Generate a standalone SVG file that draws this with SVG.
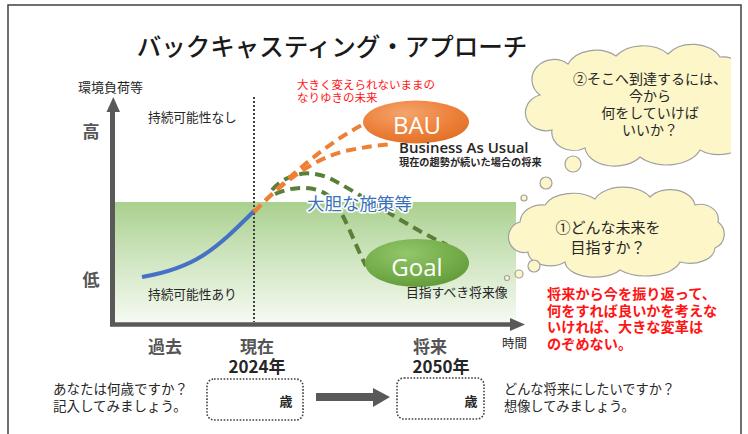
<svg xmlns="http://www.w3.org/2000/svg" width="748" height="434" viewBox="0 0 748 434">
<defs>
<style>
.jp{font-family:"Noto Sans CJK JP","Noto Sans",sans-serif;}
.en{font-family:"Open Sans","Noto Sans",sans-serif;}
.dk{fill:#262626;}
.gr{fill:#555555;font-weight:bold;}
.red{fill:#ff1414;}
.cloud{fill:#fcf6c8;stroke:#a0a0a0;stroke-width:1.2;}
.orange{fill:none;stroke:#ee8035;stroke-width:4;stroke-dasharray:10 6;}
.green{fill:none;stroke:#5a7f38;stroke-width:4;stroke-dasharray:10 6;}
.box{fill:#ffffff;stroke:#404040;stroke-width:1.6;stroke-dasharray:1.6 1.6;}
</style>
<linearGradient id="gBand" x1="0" y1="0" x2="0" y2="1">
<stop offset="0" stop-color="#a9d08e"/>
<stop offset="0.35" stop-color="#c6e0b4"/>
<stop offset="1" stop-color="#f6faf2"/>
</linearGradient>
<radialGradient id="gBAU" cx="0.4" cy="0.3" r="0.8">
<stop offset="0" stop-color="#f4a46c"/>
<stop offset="0.6" stop-color="#ec7f38"/>
<stop offset="1" stop-color="#dc6c24"/>
</radialGradient>
<radialGradient id="gGoal" cx="0.4" cy="0.3" r="0.8">
<stop offset="0" stop-color="#92c66a"/>
<stop offset="0.6" stop-color="#73ac48"/>
<stop offset="1" stop-color="#5e9638"/>
</radialGradient>
<clipPath id="clipR"><rect x="0" y="0" width="731" height="434"/></clipPath>
</defs>

<rect x="0" y="0" width="748" height="434" fill="#ffffff"/>
<rect id="frame" x="8" y="5" width="733" height="440" fill="none" stroke="#404040" stroke-width="1.5"/>

<text id="title" class="jp" x="332" y="56" font-size="24.5" font-weight="500" text-anchor="middle" fill="#1a1a1a">バックキャスティング・アプローチ</text>

<g id="band">
<rect x="115" y="202" width="401" height="120" fill="url(#gBand)"/>
</g>

<g id="axes">
<line x1="112.5" y1="326" x2="112.5" y2="110" stroke="#595959" stroke-width="5"/>
<path d="M106.5,112 L113.3,97 L120,112 Z" fill="#595959"/>
<line x1="110" y1="324.5" x2="511" y2="324.5" stroke="#595959" stroke-width="4.5"/>
<path d="M510,318 L525,324.5 L510,331 Z" fill="#595959"/>
<line x1="254" y1="97" x2="254" y2="322" stroke="#404040" stroke-width="2" stroke-dasharray="2 2"/>
</g>

<g id="axis-labels">
<text class="jp dk" x="78" y="92" font-size="13">環境負荷等</text>
<text class="jp gr" x="91" y="138" font-size="17" text-anchor="middle" fill="#595959">高</text>
<text class="jp gr" x="91" y="286" font-size="17" text-anchor="middle" fill="#595959">低</text>
<text class="jp dk" x="148" y="122" font-size="12.7">持続可能性なし</text>
<text class="jp dk" x="148" y="299" font-size="12.7">持続可能性あり</text>
<text class="jp dk" x="502" y="348" font-size="12.5">時間</text>
<text class="jp gr" x="165" y="353" font-size="17" text-anchor="middle">過去</text>
<text class="jp gr" x="257" y="353" font-size="17" text-anchor="middle">現在</text>
<text class="jp" x="257" y="373" font-size="17" font-weight="bold" text-anchor="middle" fill="#262626">2024年</text>
<text class="jp gr" x="430" y="353" font-size="17" text-anchor="middle">将来</text>
<text class="jp" x="441" y="373" font-size="17" font-weight="bold" text-anchor="middle" fill="#262626">2050年</text>
</g>

<g id="connectors">
<path d="M142,277 C195,268 215,250 254,211" fill="none" stroke="#4472c4" stroke-width="4"/>
<path class="green" d="M272,190 C288,172 312,168 335,181 C370,200 410,228 447,245"/>
<path class="green" d="M275,194 C295,185 320,185 333,200 C345,215 355,245 366,266"/>
<path class="orange" d="M254,212 C290,175 330,140 370,121"/>
<path class="orange" d="M254,212 C280,185 310,160 345,151 C365,147 380,145 392,144"/>
<line x1="316" y1="397" x2="375" y2="397" stroke="#595959" stroke-width="8"/>
<path d="M373,388 L390,397 L373,407 Z" fill="#595959"/>
</g>

<text id="bold-label" class="jp" x="307" y="210" font-size="17.5" fill="#3a70b8" stroke="#ffffff" stroke-width="3" paint-order="stroke" stroke-linejoin="round">大胆な施策等</text>

<g id="bau-note">
<text class="jp red" x="297" y="89" font-size="11.5">大きく変えられないままの</text>
<text class="jp red" x="297" y="102" font-size="11.5">なりゆきの未来</text>
</g>

<g id="node-bau">
<ellipse cx="416" cy="122" rx="53" ry="21.5" fill="url(#gBAU)"/>
<text class="en" x="417" y="134" font-size="24" text-anchor="middle" fill="#ffffff">BAU</text>
<text class="en" x="399" y="153" font-size="15" font-weight="600" fill="#262626">Business As Usual</text>
<text class="jp" x="399" y="166" font-size="10.2" font-weight="bold" fill="#262626">現在の趨勢が続いた場合の将来</text>
</g>

<g id="node-goal">
<ellipse cx="417" cy="263" rx="52" ry="24" fill="url(#gGoal)"/>
<text class="en" x="417" y="276" font-size="24" text-anchor="middle" fill="#ffffff">Goal</text>
<text class="jp dk" x="406" y="297" font-size="12.8">目指すべき将来像</text>
</g>

<g id="cloud-2" clip-path="url(#clipR)">
<path class="cloud" d="M540,95 A22,20 0 0 1 568,64 A30,22 0 0 1 616,56 A32,22 0 0 1 668,54 A30,22 0 0 1 720,57 A25,25 0 0 1 748,80 L748,140 A30,20 0 0 1 700,150 A35,22 0 0 1 640,157 A30,20 0 0 1 585,148 A22,18 0 0 1 552,130 A18,16 0 0 1 540,95 Z"/>
<circle class="cloud" cx="573" cy="164" r="8"/>
<circle class="cloud" cx="546" cy="183" r="6"/>
<circle class="cloud" cx="524" cy="198" r="3"/>
<g class="jp dk" font-size="14" text-anchor="middle">
<text x="650" y="84">②そこへ到達するには、</text>
<text x="650" y="101">今から</text>
<text x="650" y="118">何をしていけば</text>
<text x="650" y="135">いいか？</text>
</g>
</g>

<g id="cloud-1">
<path class="cloud" d="M520,222 A22,18 0 0 1 545,205 A30,18 0 0 1 595,199 A30,18 0 0 1 650,197 A25,18 0 0 1 695,205 A18,15 0 0 1 718,222 A15,15 0 0 1 715,248 A25,16 0 0 1 680,262 A35,18 0 0 1 620,270 A30,16 0 0 1 565,262 A22,14 0 0 1 528,252 A15,15 0 0 1 520,222 Z"/>
<circle class="cloud" cx="534" cy="266" r="6"/>
<circle class="cloud" cx="519" cy="274" r="4"/>
<circle class="cloud" cx="507" cy="278" r="2.5"/>
<g class="jp dk" font-size="15" text-anchor="middle">
<text x="608" y="233">①どんな未来を</text>
<text x="608" y="253">目指すか？</text>
</g>
</g>

<g id="message" class="jp red" font-size="14.2" font-weight="bold">
<text x="547" y="299">将来から今を振り返って、</text>
<text x="547" y="315.5">何をすれば良いかを考えな</text>
<text x="547" y="332">いければ、大きな変革は</text>
<text x="547" y="348.5">のぞめない。</text>
</g>

<g id="box-now">
<rect class="box" x="207" y="379" width="96" height="41" rx="7"/>
<text class="jp" x="286" y="406" font-size="13" font-weight="bold" text-anchor="middle" fill="#262626">歳</text>
</g>
<g id="box-future">
<rect class="box" x="397" y="378" width="87" height="41" rx="7"/>
<text class="jp" x="471" y="406" font-size="13" font-weight="bold" text-anchor="middle" fill="#262626">歳</text>
</g>

<g id="prompts" class="jp dk" font-size="13.5">
<text x="53" y="394">あなたは何歳ですか？</text>
<text x="53" y="411">記入してみましょう。</text>
<text x="504" y="394" font-size="13.2">どんな将来にしたいですか？</text>
<text x="504" y="411" font-size="13.2">想像してみましょう。</text>
</g>
</svg>
